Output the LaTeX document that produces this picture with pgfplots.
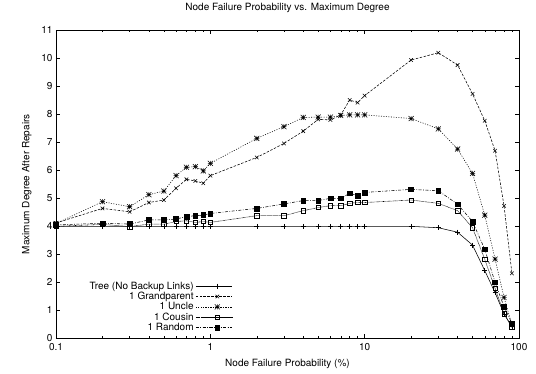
\documentclass[border=0pt]{standalone}
\usepackage{fontspec}
\setmainfont{TeX Gyre Heros}
\usepackage{pgfplots}
\pgfplotsset{compat=1.18}
\pgfdeclareplotmark{gpstar}{%
  \pgfpathmoveto{\pgfqpoint{-\pgfplotmarksize}{0pt}}\pgfpathlineto{\pgfqpoint{\pgfplotmarksize}{0pt}}%
  \pgfpathmoveto{\pgfqpoint{0pt}{-\pgfplotmarksize}}\pgfpathlineto{\pgfqpoint{0pt}{\pgfplotmarksize}}%
  \pgfpathmoveto{\pgfqpoint{-\pgfplotmarksize}{-\pgfplotmarksize}}\pgfpathlineto{\pgfqpoint{\pgfplotmarksize}{\pgfplotmarksize}}%
  \pgfpathmoveto{\pgfqpoint{-\pgfplotmarksize}{\pgfplotmarksize}}\pgfpathlineto{\pgfqpoint{\pgfplotmarksize}{-\pgfplotmarksize}}%
  \pgfusepathqstroke}
\begin{document}
\begin{tikzpicture}
\begin{semilogxaxis}[
  at={(0pt,0pt)}, anchor=south west,
  scale only axis, width=463pt, height=308pt,
  xmin=0.1, xmax=100, ymin=0, ymax=11,
  xtick={0.1,1,10,100}, xticklabels={0.1,1,10,100},
  ytick={0,1,...,11},
  tick align=inside, major tick length=4pt, minor tick length=2pt,
  tick style={black, line width=0.5pt},
  axis line style={black, line width=0.8pt},
  font=\fontsize{10}{11}\selectfont,
  tick label style={font=\fontsize{10}{11}\selectfont},
  xticklabel style={yshift=-2pt},
  /pgf/number format/assume math mode=true,
  title={Node Failure Probability vs. Maximum Degree},
  title style={at={(0.5,1)}, anchor=south, yshift=8pt},
  xlabel={Node Failure Probability (\%)},
  ylabel={Maximum Degree After Repairs},
  xlabel style={yshift=-1pt},
  ylabel style={yshift=3pt},
  every axis plot/.append style={line width=0.55pt, black, mark size=2.5pt},
  legend plot pos=right,
  legend cell align=right,
  legend style={draw=none, fill=none, at={(0.383,0.01)}, anchor=south east,
    font=\fontsize{10}{11}\selectfont, row sep=-2.5pt, inner sep=1pt},
  legend image code/.code={\path (0pt,0pt) -- (36pt,0pt); \draw[mark repeat=2,mark phase=2] plot coordinates {(7pt,0pt) (21.5pt,0pt) (36pt,0pt)};},
]
\addplot[solid, mark=+] coordinates {
(0.1,4)(0.2,4)(0.3,4)(0.4,4)(0.5,4)(0.6,4)(0.7,4)(0.8,4)(0.9,4)(1,4)(2,4)(3,4)(4,4)(5,4)(6,4)(7,4)(8,4)(9,4)(10,4)(20,4)(30,3.95)(40,3.79)(50,3.33)(60,2.42)(70,1.63)(80,0.87)(90,0.42)};
\addlegendentry{Tree (No Backup Links)}
\addplot[dash pattern=on 2.5pt off 1.5pt, mark=x, mark options={solid}] coordinates {
(0.1,4.12)(0.2,4.64)(0.3,4.52)(0.4,4.85)(0.5,4.94)(0.6,5.36)(0.7,5.68)(0.8,5.62)(0.9,5.54)(1,5.81)(2,6.46)(3,6.96)(4,7.40)(5,7.82)(6,7.80)(7,7.98)(8,8.51)(9,8.42)(10,8.67)(20,9.94)(30,10.20)(40,9.76)(50,8.73)(60,7.77)(70,6.70)(80,4.73)(90,2.32)};
\addlegendentry{1 Grandparent}
\addplot[dash pattern=on 1pt off 1.5pt, mark=gpstar, mark options={solid}] coordinates {
(0.1,4.10)(0.2,4.88)(0.3,4.70)(0.4,5.13)(0.5,5.26)(0.6,5.81)(0.7,6.11)(0.8,6.13)(0.9,5.98)(1,6.25)(2,7.14)(3,7.56)(4,7.89)(5,7.90)(6,7.90)(7,7.96)(8,7.98)(9,7.98)(10,7.98)(20,7.85)(30,7.48)(40,6.76)(50,5.89)(60,4.40)(70,2.83)(80,1.46)(90,0.48)};
\addlegendentry{1 Uncle}
\addplot[dash pattern=on 0.6pt off 0.6pt, mark=square, mark size=2.2pt, mark options={solid}] coordinates {
(0.1,4.0)(0.2,4.07)(0.3,3.99)(0.4,4.08)(0.5,4.08)(0.6,4.17)(0.7,4.20)(0.8,4.14)(0.9,4.17)(1,4.14)(2,4.38)(3,4.38)(4,4.56)(5,4.67)(6,4.74)(7,4.74)(8,4.82)(9,4.85)(10,4.85)(20,4.94)(30,4.82)(40,4.56)(50,3.95)(60,2.82)(70,1.79)(80,0.87)(90,0.39)};
\addlegendentry{1 Cousin}
\addplot[dash pattern=on 3pt off 1.5pt on 0.8pt off 1.5pt, mark=square*, mark size=2.4pt, mark options={solid}] coordinates {
(0.1,4.05)(0.2,4.11)(0.3,4.08)(0.4,4.23)(0.5,4.23)(0.6,4.26)(0.7,4.35)(0.8,4.38)(0.9,4.40)(1,4.46)(2,4.64)(3,4.80)(4,4.92)(5,4.92)(6,5.0)(7,5.0)(8,5.18)(9,5.10)(10,5.21)(20,5.32)(30,5.27)(40,4.79)(50,4.17)(60,3.18)(70,2.0)(80,1.13)(90,0.54)};
\addlegendentry{1 Random}
\end{semilogxaxis}
\path (-56pt,-35pt) rectangle (480pt,335pt);
\end{tikzpicture}
\end{document}
